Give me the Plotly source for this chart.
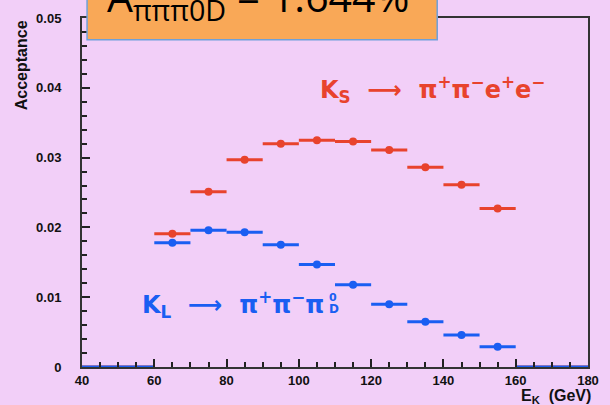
import plotly.graph_objects as go

# bin centres (GeV) and acceptances
energy = [45, 55, 65, 75, 85, 95, 105, 115, 125, 135, 145, 155, 165, 175]
ks_acc = [0, 0, 0.0191, 0.0251, 0.0297, 0.0320, 0.0325, 0.0323, 0.0311, 0.0286, 0.0261, 0.0227, 0, 0]
kl_acc = [0, 0, 0.0178, 0.0196, 0.0193, 0.0175, 0.0147, 0.0118, 0.0090, 0.0065, 0.0046, 0.0029, 0, 0]
bin_half_width = 5
x_ticks = [40, 60, 80, 100, 120, 140, 160, 180]
y_ticks = [0, 0.01, 0.02, 0.03, 0.04, 0.05]
y_ticktext = ["0", "0.01", "0.02", "0.03", "0.04", "0.05"]

RED = "#E8432D"
BLUE = "#1A5EF2"
BG = "#F2CFF8"
LABEL_FONT = "DejaVu Sans"

fig = go.Figure()

def add_series(vals, color):
    xs_nz = [e for e, v in zip(energy, vals) if v > 0]
    ys_nz = [v for v in vals if v > 0]
    xs_z = [e for e, v in zip(energy, vals) if v == 0]
    ys_z = [v for v in vals if v == 0]
    fig.add_trace(go.Scatter(
        x=xs_z, y=ys_z, mode="markers",
        marker=dict(size=1, color=color, opacity=0),
        error_x=dict(type="constant", value=bin_half_width, width=0, thickness=3, color=color),
        showlegend=False, cliponaxis=False))
    fig.add_trace(go.Scatter(
        x=xs_nz, y=ys_nz, mode="markers",
        marker=dict(size=8, color=color),
        error_x=dict(type="constant", value=bin_half_width, width=0, thickness=3, color=color),
        showlegend=False))

add_series(ks_acc, RED)
add_series(kl_acc, BLUE)

axis_font = dict(family="Liberation Sans", size=13, color="#111111", weight="bold")

fig.update_layout(
    width=610, height=405,
    margin=dict(l=82, r=15, t=11, b=38),
    paper_bgcolor=BG, plot_bgcolor=BG,
    xaxis=dict(range=[40, 180], tickvals=x_ticks,
               ticks="inside", ticklen=8, tickwidth=1.5, tickcolor="#222",
               minor=dict(dtick=5, ticks="inside", ticklen=5, tickcolor="#222"),
               showline=True, linecolor="#333", linewidth=2, mirror=True,
               showgrid=False, zeroline=False, tickfont=axis_font, ticklabelstandoff=0),
    yaxis=dict(range=[0, 0.05], tickvals=y_ticks, ticktext=y_ticktext,
               ticks="inside", ticklen=8, tickwidth=1.5, tickcolor="#222",
               minor=dict(dtick=0.002, ticks="inside", ticklen=5, tickcolor="#222"),
               showline=True, linecolor="#333", linewidth=2, mirror=True,
               showgrid=False, zeroline=False, tickfont=axis_font, ticklabelstandoff=16),
)

# orange box
fig.add_shape(type="rect", xref="paper", yref="paper",
              x0=0.01, x1=0.702, y0=0.938, y1=1.12,
              fillcolor="#F9A857", line=dict(color="#6FA0D8", width=1.5), layer="above")
fig.add_annotation(xref="paper", yref="paper", x=0.045, y=0.964, xanchor="left", yanchor="bottom",
                   text="A<sub>πππ0D</sub> = 1.644%", showarrow=False,
                   font=dict(family="Open Sans", size=41, color="#000000"))

# labels
fig.add_annotation(x=105.3, y=0.0398, xref="x", yref="y", xanchor="left", yanchor="middle",
                   text="K<sub>S</sub>  ⟶  π<sup>+</sup>π<sup>−</sup>e<sup>+</sup>e<sup>−</sup>",
                   showarrow=False, font=dict(family=LABEL_FONT, size=24, color=RED, weight="bold"))
fig.add_annotation(x=107.5, y=0.0089, xref="x", yref="y", xanchor="right", yanchor="middle",
                   text="K<sub>L</sub>  ⟶  π<sup>+</sup>π<sup>−</sup>π",
                   showarrow=False, font=dict(family=LABEL_FONT, size=24, color=BLUE, weight="bold"))
fig.add_annotation(x=107.8, y=0.0100, xref="x", yref="y", xanchor="left", yanchor="middle",
                   text="0", showarrow=False,
                   font=dict(family=LABEL_FONT, size=11, color=BLUE, weight="bold"))
fig.add_annotation(x=107.8, y=0.0083, xref="x", yref="y", xanchor="left", yanchor="middle",
                   text="D", showarrow=False,
                   font=dict(family=LABEL_FONT, size=12, color=BLUE, weight="bold"))

# axis titles
fig.add_annotation(xref="paper", yref="paper", x=-0.12, y=1.0, xanchor="center", yanchor="top",
                   text="Acceptance", textangle=-90, showarrow=False,
                   font=dict(family="Liberation Sans", size=16, color="#111", weight="bold"))
fig.add_annotation(xref="paper", yref="paper", x=1.01, y=-0.118, xanchor="right", yanchor="bottom",
                   text="E<sub>K</sub>  (GeV)", showarrow=False,
                   font=dict(family="Liberation Sans", size=16, color="#111", weight="bold"))

fig.write_html("out.html")
